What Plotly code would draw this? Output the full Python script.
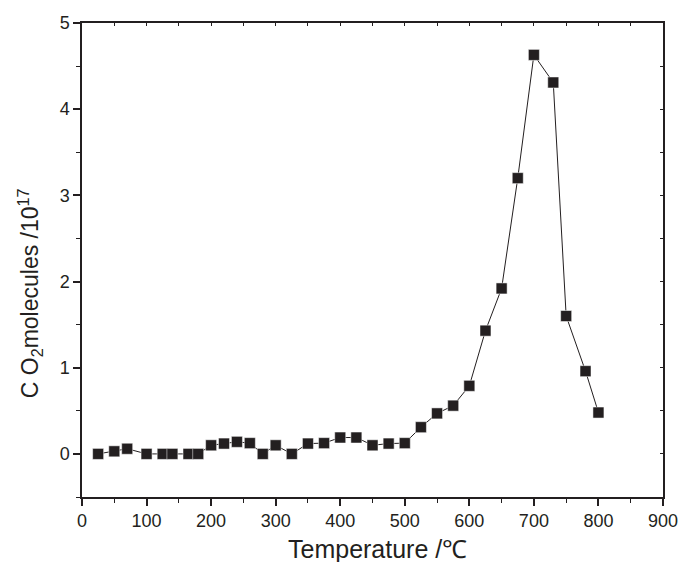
import plotly.graph_objects as go

temperature = [25, 50, 70, 100, 125, 140, 165, 180, 200, 220, 240, 260, 280, 300,
               325, 350, 375, 400, 425, 450, 475, 500, 525, 550, 575, 600,
               625, 650, 675, 700, 730, 750, 780, 800]
co2 = [0.0, 0.03, 0.06, 0.0, 0.0, 0.0, 0.0, 0.0, 0.10, 0.12, 0.14, 0.125, 0.0, 0.10,
       0.0, 0.12, 0.125, 0.19, 0.19, 0.10, 0.12, 0.125, 0.31, 0.47, 0.56, 0.79,
       1.43, 1.92, 3.20, 4.63, 4.31, 1.60, 0.96, 0.48]
x_title = "Temperature /℃"
y_title = "C O<sub>2</sub>molecules /10<sup>17</sup>"

fig = go.Figure()
fig.add_trace(go.Scatter(
    x=temperature, y=co2, mode="lines+markers",
    line=dict(color="#231f20", width=1),
    marker=dict(symbol="square", size=11, color="#231f20",
                line=dict(color="#ffffff", width=0.5)),
    showlegend=False,
))

axis_font = dict(family="Liberation Sans, Arial, sans-serif", size=18, color="#231f20")
title_font = dict(family="Liberation Sans, Arial, sans-serif", size=25, color="#231f20")
ytitle_font = dict(family="Liberation Sans, Arial, sans-serif", size=23, color="#231f20")

fig.update_layout(
    width=678, height=562,
    margin=dict(l=82, r=15, t=23, b=65),
    paper_bgcolor="white", plot_bgcolor="white",
    xaxis=dict(
        range=[0, 900], tickvals=list(range(0, 901, 100)), automargin=False,
        ticklabeloverflow="allow",
        ticks="outside", ticklen=7, tickwidth=1.5, tickcolor="#231f20",
        minor=dict(tickvals=list(range(50, 900, 100)), ticks="outside", ticklen=4,
                   tickwidth=1.2, tickcolor="#231f20"),
        showline=True, linecolor="#231f20", linewidth=1.5, mirror=True,
        showgrid=False, zeroline=False, tickfont=axis_font,
    ),
    yaxis=dict(
        range=[-0.5, 5], tickvals=[0, 1, 2, 3, 4, 5], automargin=False,
        ticklabeloverflow="allow",
        ticks="outside", ticklen=7, tickwidth=1.5, tickcolor="#231f20",
        minor=dict(tickvals=[-0.5, 0.5, 1.5, 2.5, 3.5, 4.5], ticks="outside", ticklen=4,
                   tickwidth=1.2, tickcolor="#231f20"),
        showline=True, linecolor="#231f20", linewidth=1.5, mirror=True,
        showgrid=False, zeroline=False, tickfont=axis_font,
    ),
    xaxis2=dict(
        overlaying="x", side="top", matches="x", range=[0, 900], automargin=False,
        tickvals=list(range(0, 901, 50)), ticks="inside", ticklen=3,
        tickcolor="#231f20", showticklabels=False, showgrid=False, zeroline=False,
    ),
    yaxis2=dict(
        overlaying="y", side="right", matches="y", range=[-0.5, 5], automargin=False,
        tickvals=[-0.5, 0, 0.5, 1, 1.5, 2, 2.5, 3, 3.5, 4, 4.5, 5], ticks="inside", ticklen=3,
        tickcolor="#231f20", showticklabels=False, showgrid=False, zeroline=False,
    ),
    annotations=[
        dict(text=x_title, xref="paper", yref="paper", x=0.509, y=-0.11,
             xanchor="center", yanchor="middle", showarrow=False, font=title_font),
        dict(text=y_title, xref="paper", yref="paper", x=-0.0895, y=0.43,
             xanchor="center", yanchor="middle", textangle=-90, showarrow=False,
             font=ytitle_font),
    ],
)
# invisible trace to activate mirror-tick axes
fig.add_trace(go.Scatter(x=[None], y=[None], xaxis="x2", yaxis="y2", showlegend=False,
                         hoverinfo="skip"))

fig.write_html("out.html", config={"displayModeBar": False},
               post_script="document.body.style.margin='0';document.body.style.padding='0';")
